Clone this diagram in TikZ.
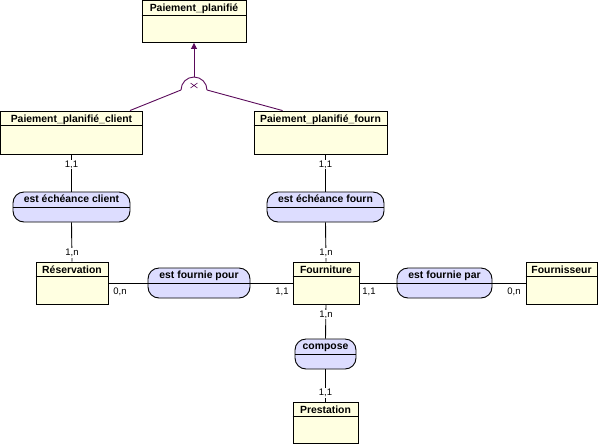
\documentclass[tikz,border=0pt]{standalone}
\usepackage{fontspec}
\setmainfont{Liberation Sans}
\usepackage{xcolor}
\definecolor{entity-fill}{RGB}{255,255,225}
\definecolor{assoc-fill}{RGB}{221,221,255}
\definecolor{isa-purple}{RGB}{90,10,90}
\usetikzlibrary{arrows.meta,positioning}

\begin{document}
\begin{tikzpicture}[
    x=1pt, y=-1pt,
    every node/.style={inner sep=0pt},
    entity/.style={draw=black, line width=0.9pt, fill=entity-fill, minimum height=42pt},
    assoc/.style={draw=black, line width=0.9pt, fill=assoc-fill, rounded corners=11pt, minimum height=30pt},
    ename/.style={font=\fontsize{10.4}{12}\selectfont\bfseries, anchor=base},
    card/.style={font=\fontsize{9.5}{11}\selectfont, fill=white, inner sep=1pt},
    link/.style={draw=black, line width=0.9pt},
    isaline/.style={draw=isa-purple, line width=0.9pt}
]
\useasboundingbox (0,0) rectangle (599,445);

% Entities
\node[entity, minimum width=104pt] (pp) at (194,21.5) {};
\node[ename] (pp-t) at ([yshift=-11.5pt]pp.north) {Paiement\_planifié};
\draw[link] ([yshift=-15pt]pp.north west) -- ([yshift=-15pt]pp.north east);

\node[entity, minimum width=142pt, minimum height=43pt] (ppc) at (71.5,132.5) {};
\node[ename] (ppc-t) at ([yshift=-11.5pt]ppc.north) {Paiement\_planifié\_client};
\draw[link] ([yshift=-15pt]ppc.north west) -- ([yshift=-15pt]ppc.north east);

\node[entity, minimum width=133pt, minimum height=43pt] (ppf) at (320.5,132.5) {};
\node[ename] (ppf-t) at ([yshift=-11.5pt]ppf.north) {Paiement\_planifié\_fourn};
\draw[link] ([yshift=-15pt]ppf.north west) -- ([yshift=-15pt]ppf.north east);

\node[entity, minimum width=72pt] (res) at (72,283) {};
\node[ename] (res-t) at ([yshift=-11.5pt]res.north) {Réservation};
\draw[link] ([yshift=-15pt]res.north west) -- ([yshift=-15pt]res.north east);

\node[entity, minimum width=66pt] (fourn) at (326,283) {};
\node[ename] (fourn-t) at ([yshift=-11.5pt]fourn.north) {Fourniture};
\draw[link] ([yshift=-15pt]fourn.north west) -- ([yshift=-15pt]fourn.north east);

\node[entity, minimum width=71pt] (fsseur) at (561.5,283) {};
\node[ename] (fsseur-t) at ([yshift=-11.5pt]fsseur.north) {Fournisseur};
\draw[link] ([yshift=-15pt]fsseur.north west) -- ([yshift=-15pt]fsseur.north east);

\node[entity, minimum width=65pt, minimum height=41pt] (prest) at (325.5,422.5) {};
\node[ename] (prest-t) at ([yshift=-11.5pt]prest.north) {Prestation};
\draw[link] ([yshift=-15pt]prest.north west) -- ([yshift=-15pt]prest.north east);

% Associations
\node[assoc, minimum width=117pt] (eec) at (71.5,207) {};
\node[ename] (eec-t) at ([yshift=-11pt]eec.north) {est échéance client};
\draw[link] (eec.west) -- (eec.east);

\node[assoc, minimum width=117pt] (eef) at (325.5,207) {};
\node[ename] (eef-t) at ([yshift=-11pt]eef.north) {est échéance fourn};
\draw[link] (eef.west) -- (eef.east);

\node[assoc, minimum width=102pt] (efpour) at (199,283) {};
\node[ename] (efpour-t) at ([yshift=-11pt]efpour.north) {est fournie pour};
\draw[link] (efpour.west) -- (efpour.east);

\node[assoc, minimum width=95pt] (efpar) at (444.5,283) {};
\node[ename] (efpar-t) at ([yshift=-11pt]efpar.north) {est fournie par};
\draw[link] (efpar.west) -- (efpar.east);

\node[assoc, minimum width=61pt] (compose) at (325.5,354) {};
\node[ename] (compose-t) at ([yshift=-11pt]compose.north) {compose};
\draw[link] (compose.west) -- (compose.east);

% Links
\draw[link] (ppc.south) -- (eec.north);
\draw[link] (eec.south) -- (res.north);
\draw[link] (eef.north) -- (eef.north |- ppf.south);
\draw[link] (eef.south) -- (fourn.north);
\draw[link] (fourn.south) -- (compose.north);
\draw[link] (compose.south) -- (prest.north);
\draw[link] (res.east) -- (efpour.west);
\draw[link] (efpour.east) -- (fourn.west);
\draw[link] (fourn.east) -- (efpar.west);
\draw[link] (efpar.east) -- (fsseur.west);

% Cardinalities
\node[card] (c-ppc) at ([yshift=-10pt]ppc.south) {1,1};
\node[card] (c-res) at ([yshift=8.5pt]res.north) {1,n};
\node[card] (c-ppf) at ([xshift=5pt,yshift=-10pt]ppf.south) {1,1};
\node[card] (c-fourn-n) at ([yshift=8.5pt]fourn.north) {1,n};
\node[card] (c-fourn-s) at ([yshift=-10pt]fourn.south) {1,n};
\node[card] (c-prest) at ([yshift=8.5pt]prest.north) {1,1};
\node[card] (c-res-e) at ([xshift=11.5pt,yshift=-9pt]res.east) {0,n};
\node[card] (c-fourn-w) at ([xshift=-10.5pt,yshift=-9pt]fourn.west) {1,1};
\node[card] (c-fourn-e) at ([xshift=9.5pt,yshift=-9pt]fourn.east) {1,1};
\node[card] (c-fsseur) at ([xshift=-11.5pt,yshift=-9pt]fsseur.west) {0,n};

% Inheritance
\coordinate (isa) at (194,90);
\draw[isaline] ([xshift=-13pt]isa) arc[start angle=180, end angle=0, radius=13pt];
\draw[isaline, line width=0.6pt] ([xshift=-3.5pt,yshift=2pt]isa) -- ([xshift=3.5pt,yshift=7pt]isa)
    ([xshift=-3.5pt,yshift=7pt]isa) -- ([xshift=3.5pt,yshift=2pt]isa);
\draw[isaline, -{Triangle[length=6pt,width=6pt]}] ([yshift=13pt]isa) -- (pp.south);
\draw[isaline] ([xshift=-13pt]isa) -- ([xshift=-13pt]ppc.north east);
\draw[isaline] ([xshift=13pt]isa) -- ([xshift=29pt]ppf.north west);

\end{tikzpicture}
\end{document}
